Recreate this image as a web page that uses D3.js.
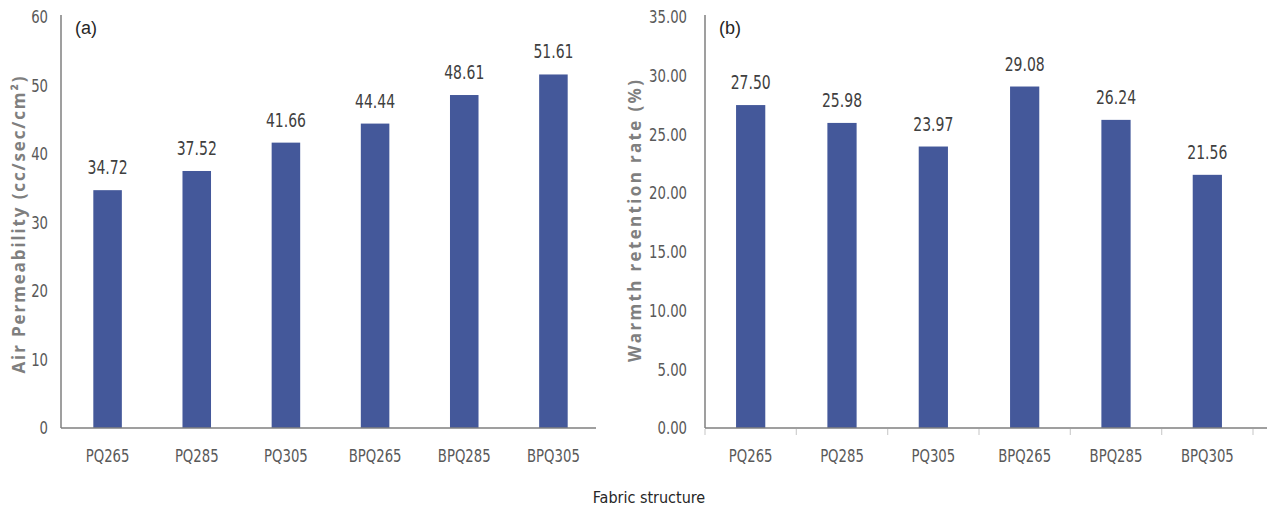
<!DOCTYPE html>
<html>
<head>
<meta charset="utf-8">
<script src="https://cdn.jsdelivr.net/npm/d3@7"></script>
<style>
  html, body { margin: 0; padding: 0; background: #fff; }
  svg { display: block; }
  .num { font-family: "DejaVu Sans Condensed", "Liberation Sans Narrow", sans-serif; }
  .ttl { font-family: "Open Sans", "DejaVu Sans", sans-serif; font-weight: bold; fill: #7f7f7f; }
</style>
</head>
<body>
<script>
// Fabric structures tested
const categories = ["PQ265", "PQ285", "PQ305", "BPQ265", "BPQ285", "BPQ305"];
// (a) air permeability, cc/sec/cm²
const airPermeability = [34.72, 37.52, 41.66, 44.44, 48.61, 51.61];
// (b) warmth retention rate, %
const warmthRetention = [27.50, 25.98, 23.97, 29.08, 26.24, 21.56];
const airTicks = [0, 10, 20, 30, 40, 50, 60];
const warmthTicks = [0, 5, 10, 15, 20, 25, 30, 35];

const W = 1267, H = 508;
const barColor = "#44589a";
const axisColor = "#7f7f7f";
const squeeze = 0.82;   // horizontal squeeze for the narrow numeric face
const svg = d3.select("body").append("svg").attr("width", W).attr("height", H);

function panel(opts) {
  const { x0, x1, y0, y1, values, ticks, fmt, tag, title, titleX, titleY, titleLen } = opts;
  const x = d3.scaleBand().domain(categories).range([x0, x1]).paddingInner(0.68).paddingOuter(0.34);
  const y = d3.scaleLinear().domain([0, d3.max(ticks)]).range([y0, y1]);
  const g = svg.append("g");

  // bars
  g.selectAll("rect.bar").data(values).join("rect")
    .attr("class", "bar")
    .attr("x", (d, i) => x(categories[i]))
    .attr("width", x.bandwidth())
    .attr("y", d => y(d))
    .attr("height", d => y(0) - y(d))
    .attr("fill", barColor);

  // value labels above each bar
  g.selectAll("text.val").data(values).join("text")
    .attr("class", "val num")
    .attr("transform", (d, i) =>
      `translate(${x(categories[i]) + x.bandwidth() / 2},${y(d) - 16}) scale(${squeeze},1)`)
    .attr("text-anchor", "middle")
    .attr("font-size", 19)
    .attr("fill", "#404040")
    .text(d => d.toFixed(2));

  // y axis
  const yAxis = g.append("g").attr("transform", `translate(${opts.yAxisX},0)`)
    .call(d3.axisLeft(y).tickValues(ticks).tickFormat(fmt).tickSize(0).tickPadding(opts.yPad));
  yAxis.select(".domain").attr("stroke", axisColor).attr("stroke-width", 1.5)
    .attr("d", `M0,${y0}V${y1 - 2}`);
  yAxis.selectAll("text").attr("class", "num").attr("font-size", 18).attr("fill", "#595959")
    .attr("transform", `scale(${squeeze},1)`)
    .attr("x", -opts.yPad / squeeze);

  // x axis
  const xAxis = g.append("g").attr("transform", `translate(0,${y0})`)
    .call(d3.axisBottom(x).tickSize(0).tickPadding(21));
  xAxis.select(".domain").attr("stroke", axisColor).attr("stroke-width", 1.5)
    .attr("d", `M${opts.yAxisX},0H${opts.axisEnd}`);
  xAxis.selectAll("text").attr("class", "num").attr("font-size", 18).attr("fill", "#595959")
    .attr("transform", `scale(${squeeze},1)`);

  if (opts.tickMarks) {
    const step = x.step();
    const bounds = categories.map(c => x(c) - step * x.paddingInner() / 2).concat([x1]);
    g.selectAll("line.tm").data(bounds).join("line")
      .attr("class", "tm")
      .attr("x1", d => d).attr("x2", d => d)
      .attr("y1", y0 + 1).attr("y2", y0 + 7)
      .attr("stroke", "#cfcfcf").attr("stroke-width", 1.2);
  }

  // panel tag
  g.append("text").attr("x", opts.yAxisX + 14).attr("y", 34)
    .attr("font-family", "Liberation Sans, Arial, sans-serif").attr("font-size", 18)
    .attr("fill", "#262626").text(tag);

  // axis title
  g.append("text").attr("class", "ttl")
    .attr("transform", `translate(${titleX},${titleY}) rotate(-90)`)
    .attr("text-anchor", "middle").attr("font-size", 17)
    .attr("textLength", titleLen).attr("lengthAdjust", "spacing")
    .text(title);
}

panel({
  yAxisX: 61, x0: 63, x1: 598, axisEnd: 596, y0: 428, y1: 17, yPad: 13,
  values: airPermeability, ticks: airTicks, fmt: d3.format("d"),
  tag: "(a)", title: "Air Permeability (cc/sec/cm\u00b2)", titleX: 25, titleY: 225, titleLen: 297,
  tickMarks: false
});

panel({
  yAxisX: 705, x0: 705, x1: 1253, axisEnd: 1267, y0: 428, y1: 17, yPad: 18,
  values: warmthRetention, ticks: warmthTicks, fmt: d3.format(".2f"),
  tag: "(b)", title: "Warmth retention rate (%)", titleX: 641, titleY: 221, titleLen: 282,
  tickMarks: true
});

svg.append("text").attr("x", 649).attr("y", 503)
  .attr("text-anchor", "middle")
  .attr("font-family", "DejaVu Sans Condensed, sans-serif")
  .attr("font-size", 16).attr("fill", "#262626")
  .text("Fabric structure");
</script>
</body>
</html>
